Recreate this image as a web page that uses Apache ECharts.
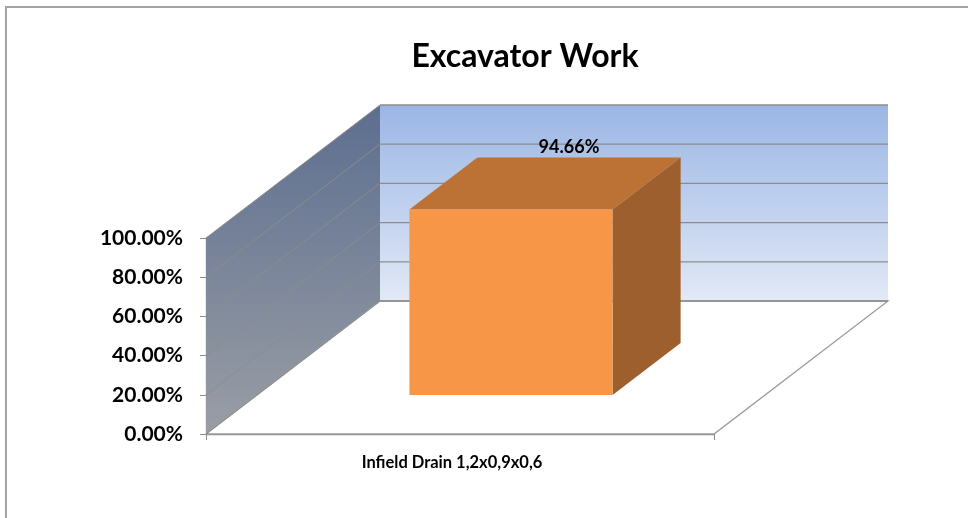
<!DOCTYPE html>
<html>
<head>
<meta charset="utf-8">
<script src="https://cdn.jsdelivr.net/npm/echarts@6/dist/echarts.min.js"></script>
<style>html,body{margin:0;padding:0;background:#fff}#c{width:968px;height:518px}</style>
</head>
<body>
<div id="c"></div>
<script>
var titleText = 'Excavator Work';
var categories = ['Infield Drain 1,2x0,9x0,6'];
var values = [0.9466];
var yTicks = [0, 0.2, 0.4, 0.6, 0.8, 1.0];

var DX = 174, DY = -133;       // depth projection
var D1 = 0.293, D2 = 0.684;    // bar depth range
var BAR_FRAC = 0.4;
var FONT = 'Lato';

var chart = echarts.init(document.getElementById('c'));

function wallsRender(params, api) {
  var bw = api.size([1, 0])[0];
  var c0 = api.coord([0, 0]);
  var left = c0[0] - bw / 2, right = c0[0] + bw / 2;
  var y0 = c0[1];
  var y100 = api.coord([0, 1])[1];
  var children = [];
  children.push({type: 'rect', shape: {x: left + DX, y: y100 + DY, width: bw, height: y0 - y100},
    style: {fill: new echarts.graphic.LinearGradient(0, 0, 0, 1, [{offset: 0, color: '#9bb6e5'}, {offset: 1, color: '#e2e9f6'}])}});
  children.push({type: 'polygon', shape: {points: [[left, y0], [left, y100], [left + DX, y100 + DY], [left + DX, y0 + DY]]},
    style: {fill: new echarts.graphic.LinearGradient(0, 0, 0, 1, [{offset: 0, color: '#5c6e8f'}, {offset: 1, color: '#9a9ea5'}])}});
  children.push({type: 'polygon', shape: {points: [[left, y0], [right, y0], [right + DX, y0 + DY], [left + DX, y0 + DY]]},
    style: {fill: '#ffffff', stroke: '#9a9a9a', lineWidth: 1.3}});
  yTicks.forEach(function (v) {
    var y = api.coord([0, v])[1];
    children.push({type: 'line', shape: {x1: left + DX, y1: y + DY, x2: right + DX, y2: y + DY}, style: {stroke: '#8c8c8c', lineWidth: 1.3}});
    children.push({type: 'line', shape: {x1: left, y1: y, x2: left + DX, y2: y + DY}, style: {stroke: '#8c8c8c', lineWidth: 1}});
  });
  return {type: 'group', children: children};
}

function barRender(params, api) {
  var idx = api.value(0), v = api.value(1);
  var bw = api.size([1, 0])[0];
  var cb = api.coord([idx, 0]);
  var ct = api.coord([idx, v]);
  var half = bw * BAR_FRAC / 2;
  var FL = cb[0] - half + D1 * DX, FR = cb[0] + half + D1 * DX;
  var Fb = cb[1] + D1 * DY, Ft = ct[1] + D1 * DY;
  var ddx = (D2 - D1) * DX, ddy = (D2 - D1) * DY;
  return {type: 'group', children: [
    {type: 'polygon', shape: {points: [[FR, Ft], [FR + ddx, Ft + ddy], [FR + ddx, Fb + ddy], [FR, Fb]]}, style: {fill: '#9c5f2d'}},
    {type: 'polygon', shape: {points: [[FL, Ft], [FR, Ft], [FR + ddx, Ft + ddy], [FL + ddx, Ft + ddy]]}, style: {fill: '#bb7234'}},
    {type: 'rect', shape: {x: FL, y: Ft, width: FR - FL, height: Fb - Ft}, style: {fill: '#f79646'}},
    {type: 'text', x: (FL + FR) / 2 + ddx - 10, y: Ft + ddy - 10,
      style: {text: (v * 100).toFixed(2) + '%', fill: '#000', font: 'bold 18px ' + FONT, align: 'center', verticalAlign: 'middle'}}
  ]};
}

chart.setOption({
  animation: false,
  title: {text: titleText, left: 520, top: 36, textAlign: 'center',
    textStyle: {fontFamily: FONT, fontWeight: 'bold', fontSize: 32, color: '#000'}},
  grid: {left: 206, right: 254, top: 238, bottom: 84},
  xAxis: {type: 'category', data: categories,
    axisLine: {show: true, lineStyle: {color: '#8c8c8c', width: 1.3}},
    axisTick: {show: true, length: 6, lineStyle: {color: '#8c8c8c'}},
    axisLabel: {fontFamily: FONT, fontWeight: 'bold', fontSize: 16.5, color: '#000', margin: 20, padding: [0, 16, 0, 0]}},
  yAxis: {type: 'value', min: 0, max: 1, interval: 0.2,
    axisLine: {show: true, lineStyle: {color: '#8c8c8c', width: 1.3}},
    axisTick: {show: true, length: 6, lineStyle: {color: '#8c8c8c'}},
    splitLine: {show: false},
    axisLabel: {fontFamily: FONT, fontWeight: 'bold', fontSize: 21, color: '#000', margin: 23,
      formatter: function (v) { return (v * 100).toFixed(2) + '%'; }}},
  graphic: [{type: 'rect', shape: {x: 6, y: 7, width: 1000, height: 600}, style: {fill: 'none', stroke: '#a3a3a3', lineWidth: 2}, silent: true}],
  series: [
    {type: 'custom', renderItem: wallsRender, data: [[0, 0]], z: 1, silent: true},
    {type: 'custom', renderItem: barRender, data: values.map(function (v, i) { return [i, v]; }), z: 3}
  ]
});
</script>
</body>
</html>
